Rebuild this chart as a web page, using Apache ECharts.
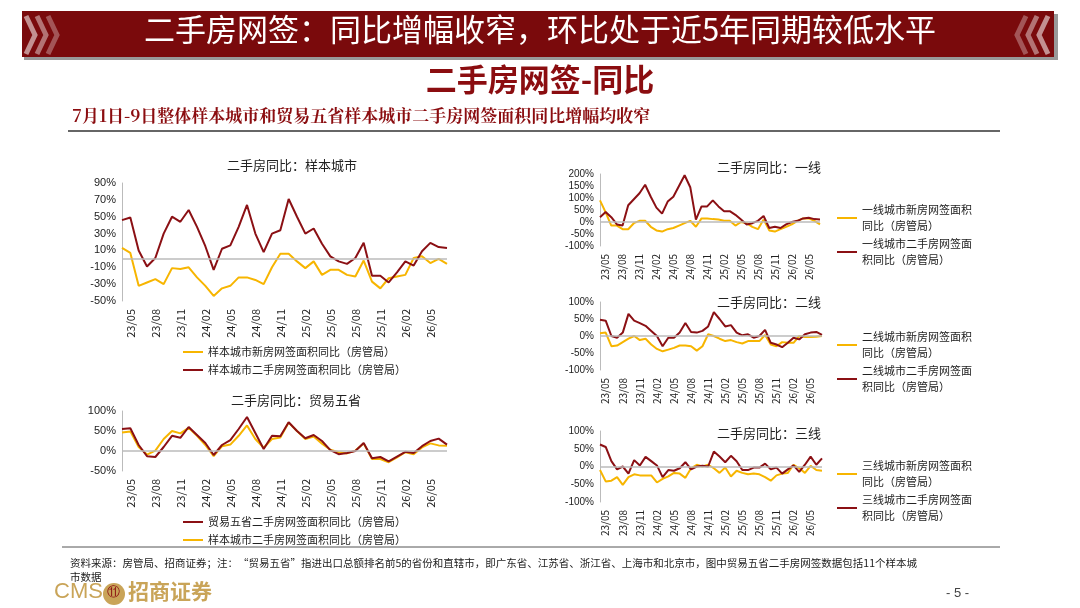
<!DOCTYPE html>
<html lang="zh" style="height:100%">
<head>
<meta charset="utf-8">
<title>二手房网签-同比</title>
<script src="https://cdn.jsdelivr.net/npm/echarts@6/dist/echarts.min.js"></script>
</head>
<body style="height:100%;margin:0;background:#fff">
<div id="main" style="width:1080px;height:608px"></div>
<script>
// 月份 23/04 - 26/07
const months = [];
for (let y = 23; y <= 26; y++) {
    for (let m = 1; m <= 12; m++) {
        if ((y === 23 && m < 4) || (y === 26 && m > 7)) continue;
        months.push(y + '/' + String(m).padStart(2, '0'));
    }
}

// 样本城市
const sampleNew = [13, 7, -32, -28, -24, -30, -11, -12, -10, -22, -32, -44, -35, -32, -22, -22, -25, -30, -10, 6, 6, -3, -11, -3, -19, -13, -13, -19, -21, -2, -27, -35, -23, -21, -19, 1, 3, -5, 0, -6];
const sampleSecond = [46, 49, 10, -9, 1, 30, 50, 44, 58, 38, 15, -13, 12, 16, 38, 64, 30, 8, 30, 34, 71, 50, 30, 36, 18, 3, -3, -6, 1, 19, -20, -20, -28, -16, -3, -8, 9, 19, 14, 13];
// 贸易五省
const tradeSecond = [55, 57, 15, -13, -15, 10, 38, 33, 60, 40, 20, -10, 15, 27, 55, 85, 45, 5, 38, 37, 72, 50, 32, 40, 25, 2, -8, -5, 0, 20, -18, -15, -26, -14, -2, -5, 12, 25, 31, 16];
// 一线
const t1New = [90, 40, -15, -15, -30, -30, -5, 5, 5, -20, -35, -40, -30, -25, -15, -5, 5, -20, 15, 15, 12, 10, 5, 5, -15, 0, -5, -20, -30, 10, -35, -40, -30, -20, -10, 5, 15, 15, 5, -10];
const t1Second = [20, 42, 20, -10, -15, 70, 95, 120, 155, 105, 60, 35, 85, 105, 150, 195, 145, 10, 65, 65, 90, 65, 45, 45, 30, 10, -10, -5, 5, 25, -25, -20, -25, -10, 0, 5, 15, 18, 12, 10];
// 二线
const t2New = [8, 10, -30, -28, -18, -8, 0, -12, -8, -25, -38, -45, -40, -35, -28, -28, -30, -43, -30, 5, 0, -8, -15, -12, -18, -22, -15, -15, -15, 3, -25, -30, -18, -20, -20, 0, -3, -3, -2, 0];
const t2Second = [48, 45, 0, -5, 10, 65, 45, 38, 30, 15, 0, -30, -5, -5, 10, 38, 12, 10, 15, 28, 70, 50, 28, 32, 10, 2, 5, -5, 0, 18, -20, -25, -33, -20, -5, -10, 5, 10, 12, 3];
// 三线
const t3New = [-10, -42, -40, -30, -52, -30, -22, -25, -25, -25, -45, -35, -28, -18, -20, -32, -5, 5, 0, 5, -5, -18, -3, -28, -12, -18, -22, -20, -22, -30, -40, -25, -20, -18, 5, -5, -18, 2, -10, -12];
const t3Second = [62, 55, 15, -8, 0, -20, 18, 3, 27, 15, 3, -30, -10, -12, -5, 12, -8, 0, 2, 0, 42, 28, 12, 30, 15, -10, -10, -3, -3, 8, -8, -3, -20, -8, 3, -15, 5, 28, 5, 23];

const RED = '#8b1014';
const YEL = '#f7b500';
const LBL = '#222';

const grids = [
    { left: 122, width: 325, top: 183, height: 118 },   // 样本城市
    { left: 122, width: 325, top: 411, height: 60 },    // 贸易五省
    { left: 600, width: 220, top: 174, height: 72 },    // 一线
    { left: 600, width: 222, top: 302, height: 68 },    // 二线
    { left: 600, width: 222, top: 431, height: 71 }     // 三线
];
const yRanges = [[-50, 90, 20], [-50, 100, 50], [-100, 200, 50], [-100, 100, 50], [-100, 100, 50]];

const xAxes = grids.map((g, i) => ({
    type: 'category', gridIndex: i, data: months, boundaryGap: false,
    axisLine: { show: false }, axisTick: { show: false },
    axisLabel: {
        rotate: 90, color: LBL, fontSize: i < 2 ? 11 : 10, fontFamily: 'Noto Sans CJK SC',
        interval: (idx) => (idx - 1) % 3 === 0
    }
}));
const yAxes = yRanges.map((r, i) => ({
    type: 'value', gridIndex: i, min: r[0], max: r[1], interval: r[2],
    axisLine: { show: true, lineStyle: { color: '#bbb' } }, axisTick: { show: false },
    splitLine: { show: false },
    axisLabel: { formatter: '{value}%', color: LBL, fontSize: i < 2 ? 11 : 10, margin: 6 }
}));

function line(name, data, color, gi, zeroLine) {
    const s = {
        name, type: 'line', data, xAxisIndex: gi, yAxisIndex: gi,
        symbol: 'none', lineStyle: { color, width: 2 }, itemStyle: { color }
    };
    if (zeroLine) {
        s.markLine = {
            silent: true, symbol: 'none', label: { show: false },
            lineStyle: { color: '#bbb', type: 'solid', width: 1.5 }, data: [{ yAxis: 0 }]
        };
    }
    return s;
}

const series = [
    line('样本城市新房网签面积同比（房管局）', sampleNew, YEL, 0, true),
    line('样本城市二手房网签面积同比（房管局）', sampleSecond, RED, 0),
    line('样本城市二手房网签面积同比（房管局） ', sampleSecond, YEL, 1, true),
    line('贸易五省二手房网签面积同比（房管局）', tradeSecond, RED, 1),
    line('一线城市新房网签面积\n同比（房管局）', t1New, YEL, 2, true),
    line('一线城市二手房网签面\n积同比（房管局）', t1Second, RED, 2),
    line('二线城市新房网签面积\n同比（房管局）', t2New, YEL, 3, true),
    line('二线城市二手房网签面\n积同比（房管局）', t2Second, RED, 3),
    line('三线城市新房网签面积\n同比（房管局）', t3New, YEL, 4, true),
    line('三线城市二手房网签面\n积同比（房管局）', t3Second, RED, 4)
];

const legendBase = {
    orient: 'vertical', icon: 'rect', itemWidth: 20, itemHeight: 2, itemGap: 2,
    textStyle: { color: LBL, fontSize: 11, fontFamily: 'Noto Sans CJK SC', lineHeight: 16 }
};
const legends = [
    { left: 178, top: 339, data: [series[0].name, series[1].name] },
    { left: 178, top: 509, data: [series[3].name, series[2].name] },
    { left: 832, top: 197, data: [series[4].name, series[5].name] },
    { left: 832, top: 324, data: [series[6].name, series[7].name] },
    { left: 832, top: 453, data: [series[8].name, series[9].name] }
].map(l => Object.assign({}, legendBase, l));

const titleStyle = { color: '#222', fontSize: 13, fontWeight: 'normal', fontFamily: 'Noto Sans CJK SC' };
const titles = [
    { text: '二手房同比：样本城市', left: 222, top: 154 },
    { text: '二手房同比：贸易五省', left: 226, top: 389 },
    { text: '二手房同比：一线', left: 712, top: 156 },
    { text: '二手房同比：二线', left: 712, top: 291 },
    { text: '二手房同比：三线', left: 712, top: 422 }
].map(t => Object.assign({ textStyle: titleStyle }, t));

function chevrons(x0, dir) {
    const out = [];
    for (let k = 0; k < 3; k++) {
        const x = x0 + k * 11 * dir;
        out.push({
            type: 'polyline', shape: { points: [[x, 16], [x + 9 * dir, 35], [x, 54]] },
            style: { stroke: 'rgba(255,255,255,' + (0.55 - k * 0.12) + ')', lineWidth: 5, fill: null }
        });
    }
    return out;
}

const graphic = [
    { type: 'rect', shape: { x: 24, y: 14, width: 1034, height: 46 }, style: { fill: '#999' } },
    { type: 'rect', shape: { x: 22, y: 11, width: 1032, height: 46 }, style: { fill: '#7a0a0c' } },
    ...chevrons(26, 1),
    ...chevrons(1048, -1),
    { type: 'text', left: 'center', top: 14, style: { text: '二手房网签：同比增幅收窄，环比处于近5年同期较低水平', fill: '#fff', fontSize: 31, fontFamily: 'Noto Sans CJK SC' } },
    { type: 'text', left: 'center', top: 64, style: { text: '二手房网签-同比', fill: '#8b0d10', fontSize: 31, fontWeight: 'bold', fontFamily: 'Noto Sans CJK SC', shadowColor: 'rgba(0,0,0,0.3)', shadowBlur: 3, shadowOffsetY: 2 } },
    { type: 'text', left: 72, top: 107, style: { text: '7月1日-9日整体样本城市和贸易五省样本城市二手房网签面积同比增幅均收窄', fill: '#8b0d10', fontSize: 17, fontWeight: 'bold', fontFamily: 'Noto Serif CJK SC, serif' } },
    { type: 'line', shape: { x1: 68, y1: 131, x2: 1000, y2: 131 }, style: { stroke: '#333', lineWidth: 1.5 } },
    { type: 'line', shape: { x1: 62, y1: 547, x2: 1000, y2: 547 }, style: { stroke: '#555', lineWidth: 1 } },
    { type: 'text', left: 70, top: 556, style: { text: '资料来源：房管局、招商证券；注：“贸易五省”指进出口总额排名前5的省份和直辖市，即广东省、江苏省、浙江省、上海市和北京市，图中贸易五省二手房网签数据包括11个样本城\n市数据', fill: '#222', fontSize: 10.5, lineHeight: 14, fontFamily: 'Noto Sans CJK SC' } },
    { type: 'text', left: 54, top: 581, style: { text: 'CMS', fill: '#c9a458', fontSize: 22, fontFamily: 'Liberation Sans' } },
    { type: 'circle', shape: { cx: 114, cy: 594, r: 11 }, style: { fill: '#c9a458' } },
    { type: 'text', left: 107, top: 586, style: { text: '⑪', fill: '#8b0d10', fontSize: 13 } },
    { type: 'text', left: 128, top: 581, style: { text: '招商证券', fill: '#c9a458', fontSize: 21, fontWeight: 'bold', fontFamily: 'Noto Sans CJK SC' } },
    { type: 'text', left: 946, top: 587, style: { text: '- 5 -', fill: '#444', fontSize: 13 } }
];

const myChart = echarts.init(document.getElementById('main'));
myChart.setOption({
    animation: false,
    title: titles,
    grid: grids,
    xAxis: xAxes,
    yAxis: yAxes,
    legend: legends,
    series,
    graphic
});
</script>
</body>
</html>
